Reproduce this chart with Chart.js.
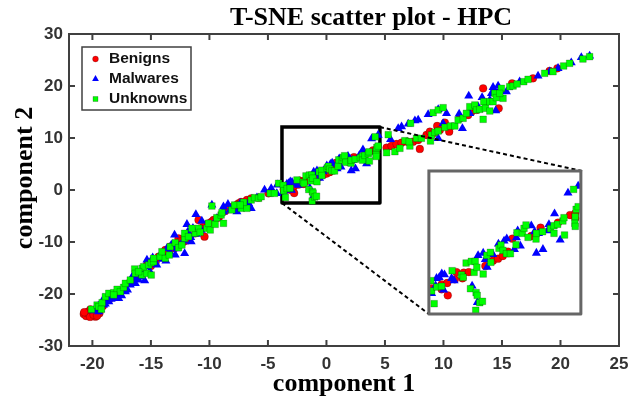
<!DOCTYPE html>
<html>
<head>
<meta charset="utf-8">
<title>T-SNE scatter plot - HPC</title>
<script src="https://cdn.jsdelivr.net/npm/chart.js@4/dist/chart.umd.js"></script>
<style>
  html, body { margin: 0; padding: 0; background: #fff; }
  #wrap { width: 641px; height: 403px; }
</style>
</head>
<body>
<div id="wrap"><canvas id="chart" width="641" height="403"></canvas></div>
<script>
// values, one array per coordinate per class
const benignX = [
  -20.74, -20.54, -20.17, -20.03, -20.37, -19.74, -19.4, -20.5, -20.2, -19.9, -19.6, -20.7,
  -18.6, -17.75, -16.76, -15.34, -16.6, -16.05,
  -14.34, -13.77, -13.06, -12.64, -12.21, -11.64, -11.21, -10.93, -10.5, -10.42, -10.08, -9.65, -11.92, -13.35, -14.63,
  -8.65, -7.51, -7.08, -6.8, -6.43, -5.8, -4.95, -7.94,
  -3.65, -3.1, -3.1, -2.79, -2.76, -2.37, -2.28, -1.95, -1.88, -1.6, -0.69, -0.27, 0.01, 0.27, 0.56, 0.8, 1.84, 2.35, 3.31, 3.97, 4.26, 4.26,
  5.14, 5.56, 5.99, 6.42, 6.9, 7.41, 7.98, 7.84, 8.55, 8.84, 9.46, 10.12, 10.49, 9.12, 12.11, 12.39, 12.82, 13.39, 14.72, 15.86, 17.65, 19.07, 19.73, 9.69, 11.4,
  -19.1, -18.3, -17.3, -16.3, -15.8, -15.0, -14.6, -14.0, -13.6, -13.0, -12.5, -11.9, -10.8, -9.8, -9.2, -8.3, -7.7, -7.3
];
const benignY = [
  -23.85, -24.23, -22.95, -24.23, -23.4, -24.36, -23.72, -23.6, -24.4, -24.0, -24.2, -23.5,
  -21.16, -19.87, -17.63, -14.42, -17.31, -16.35,
  -12.82, -11.54, -10.58, -9.29, -9.93, -8.97, -8.33, -5.77, -7.05, -8.97, -6.41, -5.77, -9.29, -10.9, -13.46,
  -4.04, -2.56, -2.56, -1.92, -1.6, -1.47, -0.64, -3.2,
  0.13, 0.54, 0.03, 0.67, -0.59, 1.05, 1.79, 1.15, 1.73, 1.79, 2.41, 2.95, 3.15, 3.43, 3.87, 5.2, 5.47, 6.32, 6.83, 7.61, 7.27, 7.78,
  8.14, 8.46, 8.85, 9.1, 9.3, 9.3, 7.89, 9.62, 10.58, 11.22, 12.31, 12.95, 11.22, 10.9, 14.42, 15.07, 15.39, 19.55, 15.71, 20.51, 21.48, 22.89, 23.4, 11.54, 13.78,
  -22.3, -20.6, -19.0, -16.8, -15.7, -14.6, -13.9, -12.6, -11.7, -11.2, -9.9, -9.7, -7.4, -6.1, -5.3, -3.3, -2.9, -2.3
];
const malwareX = [
  -19.74, -19.46, -19.03, -18.6, -18.18, -17.75, -17.18, -16.6, -16.76, -16.05, -15.53, -15.34, -15.76, -19.03, -16.33, -19.89, -19.3, -18.9, -18.4, -17.5, -17.0,
  -15.34, -14.85, -13.72, -12.12, -12.98, -13.26, -11.92, -11.84, -11.16, -10.65, -9.79, -11.41, -11.56, -13.63, -12.92, -12.49, -14.2, -8.8, -10.08, -9.37,
  -8.42, -8.22, -8.79, -7.65, -7.37, -6.66, -6.43, -5.94, -5.29, -4.72, -4.24, -6.94, -4.2,
  -3.65, -3.43, -3.38, -3.23, -3.09, -2.94, -2.99, -2.55, -2.41, -1.42, -1.13, -1.09, -0.81, -0.69, -0.59, -0.28, 0.03, 0.34, 0.49, 0.91, 1.02, 1.09, 1.24, 1.84, 2.02, 2.24, 2.12, 2.48, 2.74, 2.81, 3.12, 3.43, 3.86, 4.42,
  6.13, 6.42, 6.99, 7.56, 7.84, 8.69, 9.55, 10.26, 5.48, 11.34, 11.62, 9.55, 9.97, 12.16, 13.3, 14.47, 14.24, 14.67, 13.96, 15.38, 16.51, 18.08, 19.07, 19.79, 20.92, 21.78, 22.49, 14.1, 14.81, 12.25, 12.96,
  -19.5, -18.9, -18.3, -17.9, -17.3, -16.9, -16.4, -15.9, -15.1, -14.5, -14.0, -13.4, -12.8, -12.2, -11.6, -11.1, -10.7
];
const malwareY = [
  -22.76, -23.4, -22.12, -21.48, -20.84, -20.84, -19.55, -16.67, -18.27, -17.31, -17.44, -14.75, -15.39, -20.84, -17.95, -23.21, -22.9, -21.4, -21.0, -20.3, -19.2,
  -13.46, -13.01, -13.65, -12.18, -8.65, -10.58, -6.6, -8.01, -4.68, -5.96, -2.88, -7.37, -9.93, -11.22, -12.5, -10.58, -12.5, -3.2, -7.37, -5.45,
  -2.75, -3.84, -4.16, -4.16, -2.56, -2.56, -3.52, -1.47, 0.0, 0.32, -0.64, -3.2, 1.0,
  -0.38, 0.4, 1.15, 1.25, 1.62, 1.52, -0.04, 1.15, 0.91, 0.37, -1.3, 3.49, 3.73, 3.09, 2.3, 3.6, 4.65, 4.96, 5.2, 4.11, 5.3, 6.01, 4.45, 6.52, 5.91, 5.74, 3.73, 4.11, 6.01, 6.66, 7.75, 5.06, 9.86, 10.57,
  11.86, 12.18, 12.69, 13.33, 13.46, 14.55, 15.51, 14.74, 9.74, 14.62, 11.86, 9.94, 12.82, 18.08, 17.82, 15.26, 19.75, 20.0, 17.31, 18.91, 20.83, 21.92, 22.76, 23.4, 24.49, 25.51, 25.77, 18.59, 19.23, 14.74, 16.03,
  -22.3, -21.9, -20.3, -19.6, -19.3, -17.7, -16.9, -16.7, -15.6, -14.4, -13.3, -11.9, -11.3, -9.8, -9.1, -8.5, -7.7
];
const unknownX = [
  -20.08, -19.6, -19.46, -19.17, -19.23, -18.89, -18.6, -18.18, -17.89, -17.61, -17.33, -17.18, -16.76, -16.39, -16.33, -15.76, -15.76, -15.34, -15.62, -15.19, -14.97, -14.77, -14.97, -18.18, -16.05,
  -14.77, -14.2, -13.77, -13.43, -14.06, -13.35, -12.92, -12.64, -12.35, -12.12, -12.12, -11.78, -11.21, -10.93, -10.79, -10.22, -9.93, -10.08, -9.51, -9.37, -9.0, -8.8, -9.79, -11.5,
  -8.93, -8.08, -7.85, -7.28, -6.8, -7.08, -6.43, -6.14, -5.8, -5.58, -4.81, -4.44, -7.37, -4.09,
  -3.69, -3.65, -3.51, -3.36, -3.1, -2.52, -2.0, -1.91, -1.75, -1.51, -1.46, -1.25, -1.31, -1.16, -1.2, -1.14, -1.22, -1.0, -0.85, -0.81, -0.61, -0.41, -0.39, 0.06, 0.17, 0.28, 0.47, 0.69, 1.0, 1.05, 1.35, 1.44, 1.55, 1.66, 2.1, 2.12, 2.46, 2.9, 3.09, 3.09, 3.29, 3.58, 3.64, 3.67, 4.17, 4.26, 4.31, 4.24, 4.26, 4.42,
  5.28, 7.19, 9.12, 9.55, 9.97, 5.14, 5.85, 6.28, 6.7, 7.13, 7.07, 7.7, 8.12, 8.89, 8.98, 9.26, 9.55, 10.12, 10.6, 10.97, 11.25, 11.68, 11.96, 12.25, 12.68, 12.82, 13.1, 13.44, 13.59, 13.96, 14.24, 14.38, 14.52, 14.95, 15.09, 14.81, 13.39, 13.96, 15.66, 15.95, 16.29, 16.86, 17.23, 18.65, 19.36, 20.27, 20.78, 21.92, 22.49
];
const unknownY = [
  -22.95, -22.12, -22.44, -21.67, -22.95, -20.51, -19.87, -19.75, -19.1, -19.55, -18.72, -17.95, -17.31, -15.19, -16.03, -15.07, -16.35, -16.03, -14.75, -14.42, -13.98, -13.78, -16.35, -20.19, -15.71,
  -13.14, -12.82, -13.14, -12.5, -11.86, -10.9, -10.13, -11.09, -10.58, -9.29, -8.33, -8.97, -8.33, -7.37, -8.14, -7.37, -7.69, -6.41, -6.6, -5.32, -4.81, -6.41, -3.08, -7.37,
  -4.36, -3.84, -2.88, -3.52, -3.52, -2.37, -1.92, -1.47, -1.6, -1.28, -0.64, -0.64, -2.88, 1.28,
  0.91, -0.14, -1.44, 0.26, 0.33, 1.93, 1.49, 1.25, 2.71, 0.09, 2.88, 2.88, 1.76, 2.27, -0.31, -0.59, -2.12, -1.34, -1.2, 1.59, 3.49, 3.8, 2.78, 4.21, 4.55, 4.0, 3.66, 3.66, 4.58, 5.8, 5.74, 6.25, 6.59, 5.33, 5.16, 5.74, 5.91, 6.22, 6.52, 5.74, 6.66, 7.0, 7.34, 5.57, 10.23, 7.44, 8.19, 6.76, 6.45, 8.46,
  10.64, 12.82, 14.87, 15.39, 15.83, 7.18, 7.37, 8.01, 9.49, 8.46, 9.3, 9.94, 9.94, 9.42, 10.58, 11.09, 11.35, 12.05, 12.31, 12.31, 13.46, 13.78, 14.74, 16.03, 16.35, 15.39, 15.51, 16.99, 15.71, 16.99, 16.99, 18.59, 17.76, 19.55, 17.63, 18.59, 13.59, 15.19, 19.87, 20.0, 20.39, 20.83, 21.28, 22.44, 22.76, 23.85, 24.36, 25.19, 25.64
];

const xTicks = [-20, -15, -10, -5, 0, 5, 10, 15, 20, 25];
const yTicks = [-30, -20, -10, 0, 10, 20, 30];

// zoomed window, as a closed path, and the dashed lines joining it to the inset
const zoomX = [-3.8, 4.57, 4.57, -3.8, -3.8];
const zoomY = [12.1, 12.1, -2.5, -2.5, 12.1];
const connectTopX = [4.57, 21.85];
const connectTopY = [12.1, 3.65];
const connectBottomX = [-3.8, 8.75];
const connectBottomY = [-2.5, -23.85];

const RED = '#ff0000', BLUE = '#0000ff', GREEN = '#00ff00', AXIS = '#404040';
const EDGE = 'rgba(0,0,0,0.45)';

function toPoints(xs, ys) {
  return xs.map((x, i) => ({ x: x, y: ys[i] }));
}
function inZoom(p) {
  return p.x >= zoomX[0] && p.x <= zoomX[1] && p.y >= zoomY[2] && p.y <= zoomY[0];
}

const benigns = toPoints(benignX, benignY);
const malwares = toPoints(malwareX, malwareY);
const unknowns = toPoints(unknownX, unknownY);

const redStyle = { backgroundColor: RED, borderColor: EDGE, borderWidth: 0.5, pointStyle: 'circle', pointRadius: 3.9 };
const blueStyle = { backgroundColor: BLUE, borderColor: BLUE, borderWidth: 0, pointStyle: 'triangle', pointRadius: 5.2 };
const greenStyle = { backgroundColor: GREEN, borderColor: EDGE, borderWidth: 0.5, pointStyle: 'rect', pointRadius: 4.7 };
// keeps the inset markers inside the inset frame
const insetClip = { left: -360, right: -38, top: -137, bottom: -32 };

function insetSet(points, style, order) {
  return Object.assign({ data: points.filter(inZoom), xAxisID: 'x2', yAxisID: 'y2', order: order, clip: insetClip }, style);
}
function pathSet(xs, ys, color, width, dash, order, onInset) {
  return {
    data: toPoints(xs, ys), showLine: true, pointRadius: 0, borderColor: color, borderWidth: width,
    borderDash: dash, borderCapStyle: dash.length ? 'butt' : 'square', borderJoinStyle: 'round', order: order, clip: false,
    xAxisID: onInset ? 'x2' : 'x', yAxisID: onInset ? 'y2' : 'y'
  };
}

// inward ticks on all four sides, the frame, the titles and the legend box
const frame = {
  id: 'frame',
  afterDraw(chart) {
    const c = chart.ctx, a = chart.chartArea;
    c.save();
    c.strokeStyle = AXIS;
    c.lineWidth = 2;
    c.strokeRect(a.left, a.top, a.right - a.left, a.bottom - a.top);
    c.beginPath();
    xTicks.forEach(v => {
      const px = chart.scales.x.getPixelForValue(v);
      c.moveTo(px, a.bottom); c.lineTo(px, a.bottom - 6);
      c.moveTo(px, a.top); c.lineTo(px, a.top + 6);
    });
    yTicks.forEach(v => {
      const py = chart.scales.y.getPixelForValue(v);
      c.moveTo(a.left, py); c.lineTo(a.left + 6, py);
      c.moveTo(a.right, py); c.lineTo(a.right - 6, py);
    });
    c.stroke();

    c.fillStyle = '#000';
    c.font = 'bold 26px "Liberation Serif"';
    c.textAlign = 'center';
    c.textBaseline = 'alphabetic';
    c.fillText('T-SNE scatter plot - HPC', 371, 25);
    c.translate(32, 178);
    c.rotate(-Math.PI / 2);
    c.fillText('component 2', 0, 0);
    c.restore();

    c.save();
    c.fillStyle = '#fff';
    c.fillRect(82, 47, 109, 63);
    c.strokeStyle = AXIS;
    c.lineWidth = 1.5;
    c.strokeRect(82, 47, 109, 63);
    c.font = 'bold 15.5px "Liberation Sans"';
    c.fillStyle = '#111';
    c.textAlign = 'left';
    c.textBaseline = 'middle';
    [['Benigns', redStyle], ['Malwares', blueStyle], ['Unknowns', greenStyle]].forEach((row, i) => {
      const y = 59 + i * 20;
      const st = row[1];
      c.fillText(row[0], 109, y);
      c.fillStyle = st.backgroundColor;
      c.strokeStyle = st.borderColor;
      c.lineWidth = st.borderWidth;
      Chart.helpers.drawPoint(c, { pointStyle: st.pointStyle, radius: st.pointRadius * 0.75, borderWidth: st.borderWidth, rotation: 0 }, 95.5, y);
      c.fillStyle = '#111';
    });
    c.restore();
  }
};

new Chart(document.getElementById('chart'), {
  type: 'scatter',
  data: {
    datasets: [
      Object.assign({ label: 'Benigns', data: benigns, order: 8 }, redStyle),
      Object.assign({ label: 'Malwares', data: malwares, order: 7 }, blueStyle),
      Object.assign({ label: 'Unknowns', data: unknowns, order: 6 }, greenStyle),
      pathSet(zoomX, zoomY, '#000', 3.5, [], 9, false),
      pathSet(connectTopX, connectTopY, '#000', 2, [4, 3], 5, false),
      pathSet(connectBottomX, connectBottomY, '#000', 2, [4, 3], 5, false),
      insetSet(benigns, redStyle, 4),
      insetSet(malwares, blueStyle, 3),
      insetSet(unknowns, greenStyle, 2),
      pathSet(zoomX, zoomY, '#666666', 3, [], 1, true)
    ]
  },
  options: {
    responsive: false,
    animation: false,
    layout: { padding: { top: 34, right: 22, left: 0, bottom: 0 } },
    plugins: { legend: { display: false }, tooltip: { enabled: false }, title: { display: false } },
    scales: {
      x: {
        type: 'linear', min: -22, max: 25,
        afterBuildTicks: s => { s.ticks = xTicks.map(v => ({ value: v })); },
        afterFit: s => { s.height = 57; },
        grid: { display: false, drawTicks: false },
        border: { display: false },
        ticks: { autoSkip: false, maxRotation: 0, padding: 8, color: '#333333', font: { family: 'Liberation Sans', weight: 'bold', size: 17 } },
        title: { display: true, text: 'component 1', color: '#000', font: { family: 'Liberation Serif', weight: 'bold', size: 26 }, padding: { top: 0, bottom: 3 } }
      },
      y: {
        type: 'linear', min: -30, max: 30,
        afterBuildTicks: s => { s.ticks = yTicks.map(v => ({ value: v })); },
        afterFit: s => { s.width = 69; },
        grid: { display: false, drawTicks: false },
        border: { display: false },
        ticks: { autoSkip: false, padding: 6, color: '#333333', font: { family: 'Liberation Sans', weight: 'bold', size: 17 } }
      },
      // hidden scales that put the zoomed window on the inset frame
      x2: { type: 'linear', display: false, min: -23.62, max: 6.67 },
      y2: { type: 'linear', display: false, min: -5.76, max: 26.09 }
    }
  },
  plugins: [frame]
});
</script>
</body>
</html>
